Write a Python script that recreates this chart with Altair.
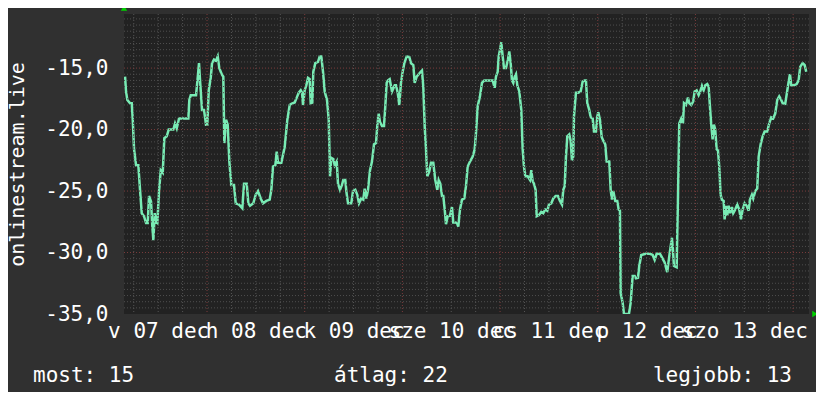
import json
import altair as alt
import pandas as pd

# hours since midnight of 07 dec, and the measured values
hours = [
    3.86, 4.10, 4.42, 5.08, 5.50, 5.75, 6.07, 6.56, 7.12, 7.54,
    7.96, 8.52, 9.02, 9.43, 9.75, 10.24, 10.56, 10.81, 11.15, 11.47,
    11.79, 12.21, 12.63, 13.12, 13.51, 14.10, 14.59, 15.72, 16.14, 16.56,
    17.12, 19.41, 19.65, 20.00, 21.30, 21.62, 22.03, 22.28, 22.77, 23.26,
    23.75, 24.07, 24.42, 24.91, 25.23, 25.72, 26.21, 26.63, 27.02, 27.61,
    28.00, 28.25, 28.67, 29.08, 29.48, 29.97, 30.63, 31.05, 31.86, 32.67,
    33.09, 33.75, 34.15, 34.56, 35.37, 35.96, 36.53, 37.19, 37.76, 38.57,
    39.40, 39.80, 40.21, 40.78, 41.12, 41.44, 42.25, 43.09, 43.73, 44.32,
    44.71, 45.54, 46.04, 46.53, 47.02, 47.34, 47.58, 48.00, 48.39, 48.81,
    49.23, 49.47, 49.87, 50.11, 50.60, 51.27, 51.68, 52.08, 52.50, 52.91,
    53.48, 53.90, 54.22, 54.53, 55.03, 55.37, 55.86, 56.18, 56.67, 57.16,
    57.48, 57.97, 58.22, 58.64, 59.45, 59.86, 60.43, 60.92, 61.34, 61.90,
    62.39, 62.74, 63.13, 63.55, 64.04, 64.53, 65.02, 65.52, 65.83, 66.18,
    66.50, 66.99, 67.48, 67.80, 68.14, 68.46, 68.88, 69.45, 70.11, 70.43,
    70.85, 71.24, 71.65, 72.07, 72.47, 73.06, 73.70, 74.11, 74.68, 75.02,
    75.51, 76.00, 76.50, 76.81, 77.13, 77.48, 77.80, 78.12, 78.61, 79.02,
    79.59, 80.08, 80.57, 80.92, 81.31, 81.73, 82.05, 82.39, 82.71, 83.13,
    83.69, 84.18, 84.50, 85.00, 85.41, 85.73, 86.15, 86.64, 87.21, 87.62,
    88.04, 88.61, 89.27, 89.76, 90.08, 90.50, 91.06, 91.55, 92.12, 94.18,
    94.67, 94.99, 95.41, 95.66, 95.98, 96.29, 96.64, 96.96, 97.45, 97.94,
    98.26, 98.60, 98.92, 99.24, 99.59, 99.91, 100.23, 100.72, 101.21, 101.55,
    101.87, 102.19, 102.78, 103.34, 103.66, 104.01, 104.33, 104.74, 104.99, 105.56,
    106.12, 106.61, 107.10, 107.59, 108.01, 108.58, 109.07, 109.66, 110.22, 110.71,
    111.21, 111.53, 111.87, 112.19, 112.51, 113.00, 113.34, 113.66, 113.98, 114.15,
    114.64, 115.21, 115.80, 116.29, 116.78, 117.10, 117.42, 117.91, 118.26, 118.75,
    119.07, 119.56, 119.88, 120.13, 120.54, 120.96, 121.35, 121.84, 122.19, 122.83,
    123.17, 123.49, 123.81, 124.30, 124.79, 125.13, 125.45, 125.63, 126.12, 126.44,
    127.66, 128.08, 128.57, 129.06, 129.38, 129.88, 130.19, 130.68, 131.77, 132.82,
    133.49, 133.98, 134.47, 135.28, 135.77, 136.43, 137.07, 137.49, 137.91, 138.23,
    138.47, 138.72, 139.38, 139.70, 140.02, 140.51, 140.93, 141.18, 141.67, 142.16,
    142.48, 142.97, 143.46, 143.80, 144.29, 144.78, 145.18, 145.60, 146.01, 146.41,
    146.90, 147.24, 147.56, 147.88, 148.22, 148.54, 148.86, 149.21, 149.53, 149.85,
    150.19, 150.51, 150.93, 151.17, 151.49, 151.81, 152.16, 152.55, 152.97, 153.29,
    153.78, 154.27, 154.76, 155.18, 155.60, 156.09, 156.58, 157.07, 157.39, 157.88,
    158.20, 158.69, 159.18, 159.53, 160.02, 160.51, 161.00, 161.64, 162.13, 162.62,
    163.11, 163.60, 164.09, 164.58, 164.93, 165.42, 166.06, 166.48, 166.90, 167.22,
    167.54, 168.20, 168.86, 169.35, 169.74, 170.33, 170.82, 171.22,
]
values = [
    -15.7, -16.9, -17.6, -17.85, -17.85, -19.2, -21.6, -22.9, -22.9, -24.9,
    -26.8, -27.05, -27.6, -27.6, -25.4, -25.85, -27.9, -29.0, -26.8, -27.5,
    -27.6, -25.0, -23.3, -23.5, -20.7, -20.55, -20.0, -20.0, -19.5, -19.9,
    -19.1, -19.1, -17.6, -17.2, -17.2, -16.1, -14.6, -16.0, -18.4, -18.4,
    -19.6, -19.6, -16.8, -15.8, -14.6, -14.3, -14.4, -14.05, -15.0, -15.5,
    -15.7, -21.1, -19.2, -19.6, -22.6, -24.5, -24.5, -26.0, -26.1, -26.4,
    -24.4, -24.4, -26.0, -26.2, -26.0, -25.3, -25.0, -25.6, -26.0, -25.8,
    -25.7, -24.9, -23.0, -22.9, -21.8, -22.7, -22.7, -21.4, -19.2, -18.0,
    -17.9, -17.8, -17.4, -17.0, -16.8, -17.0, -18.0, -16.8, -16.4, -15.8,
    -15.9, -17.85, -17.8, -15.3, -14.6, -14.5, -14.05, -14.05, -15.3, -16.9,
    -17.6, -19.2, -23.8, -22.3, -22.4, -22.9, -22.6, -24.4, -24.9, -24.5,
    -24.1, -24.1, -25.0, -26.0, -26.0, -25.0, -24.9, -25.3, -26.0, -25.6,
    -25.7, -24.8, -25.6, -24.9, -23.3, -22.6, -21.2, -21.1, -19.7, -18.7,
    -19.4, -19.7, -19.7, -18.1, -16.2, -16.0, -15.9, -16.9, -16.4, -16.4,
    -17.0, -18.0, -16.2, -15.3, -14.6, -14.05, -14.1, -14.6, -14.75, -16.2,
    -15.7, -15.5, -15.3, -15.2, -16.5, -19.75, -21.6, -23.8, -23.4, -22.7,
    -22.7, -24.1, -24.9, -24.1, -24.4, -25.4, -25.4, -26.5, -27.7, -27.05,
    -27.0, -26.3, -27.55, -27.55, -27.6, -27.9, -26.5, -25.7, -25.6, -24.6,
    -23.0, -22.6, -22.2, -21.6, -20.3, -18.1, -17.3, -16.2, -16.0, -16.0,
    -16.6, -15.7, -15.3, -14.05, -13.5, -12.9, -14.05, -15.0, -15.0, -14.3,
    -13.65, -14.6, -16.0, -16.2, -15.7, -15.5, -16.4, -16.9, -18.4, -21.6,
    -23.0, -23.8, -23.8, -24.1, -23.3, -24.2, -24.4, -24.9, -27.05, -26.95,
    -26.7, -26.8, -26.5, -26.6, -26.1, -26.0, -25.6, -25.4, -25.4, -25.8,
    -26.1, -24.9, -24.6, -22.2, -20.55, -20.4, -20.9, -22.5, -22.2, -18.95,
    -17.0, -17.0, -16.9, -16.1, -16.0, -16.0, -17.85, -18.4, -19.0, -19.1,
    -20.15, -20.15, -18.95, -18.6, -19.2, -20.6, -20.9, -21.2, -22.6, -22.6,
    -24.9, -25.7, -25.0, -25.8, -25.8, -26.5, -26.6, -33.3, -34.1, -35.0,
    -35.0, -34.1, -31.9, -31.9, -32.1, -32.05, -31.1, -30.2, -30.1, -30.1,
    -30.2, -30.6, -30.1, -30.1, -30.4, -30.8, -31.6, -30.5, -29.5, -28.8,
    -29.8, -31.1, -31.2, -25.7, -19.5, -19.1, -19.5, -17.85, -18.0, -17.4,
    -17.85, -18.0, -17.7, -16.9, -16.8, -17.2, -16.9, -16.45, -16.8, -16.4,
    -16.3, -16.5, -18.1, -19.6, -20.8, -19.6, -20.0, -21.6, -21.7, -23.0,
    -25.3, -25.7, -25.8, -27.3, -26.2, -27.0, -26.2, -26.8, -26.3, -26.8,
    -26.5, -26.1, -26.5, -27.3, -26.5, -26.0, -26.2, -26.6, -25.7, -25.3,
    -25.6, -25.0, -24.8, -22.2, -21.2, -20.55, -20.15, -20.15, -19.5, -19.0,
    -19.1, -18.7, -17.6, -17.3, -17.5, -17.85, -17.9, -17.0, -16.1, -15.5,
    -16.4, -16.4, -16.3, -16.0, -14.9, -14.6, -14.75, -15.3,
]
assert len(hours) == len(values)

x_domain = [3.6, 171.9]
y_domain = [-35.0, -10.6]
y_ticks = [-35, -30, -25, -20, -15]
day_label_hours = [12, 36, 60, 84, 108, 132, 156]
day_labels = ["v 07 dec", "h 08 dec", "k 09 dec", "sze 10 dec",
              "cs 11 dec", "p 12 dec", "szo 13 dec"]
major_y = [-30, -25, -20, -15]
minor_y = [-35 + 0.5 * i for i in range(1, 49) if i % 10 != 0]
major_x = [24, 48, 72, 96, 120, 144, 168]
minor_x = [6 * i for i in range(1, 29) if i % 4 != 0]
legend_labels = ["most", "átlag", "legjobb"]
legend_values = [15, 22, 13]
y_title = "onlinestream.live"

FONT = "DejaVu Sans Mono"
FS = 21
LINE_COLOR = "#78ebb4"

xs = alt.Scale(domain=x_domain, nice=False, zero=False)
ys = alt.Scale(domain=y_domain, nice=False, zero=False)

x_label_expr = f"{json.dumps(day_labels)}[round((datum.value - 12) / 24)]"
y_label_expr = "'-' + replace(format(abs(datum.value), '.1f'), '.', ',')"

x_axis = alt.Axis(
    values=day_label_hours, labelExpr=x_label_expr, title=None,
    grid=False, ticks=False, tickSize=0, domain=False,
    labelFont=FONT, labelFontSize=FS, labelColor="#ffffff",
    labelPadding=23, labelBaseline="alphabetic",
    labelOverlap=False, labelBound=False, labelFlush=False,
)
y_axis = alt.Axis(
    values=y_ticks, labelExpr=y_label_expr, title=y_title,
    grid=False, ticks=False, tickSize=0, domain=False,
    labelFont=FONT, labelFontSize=FS, labelColor="#ffffff",
    labelPadding=16, labelOverlap=False, labelBound=False, labelFlush=False,
    titleFont=FONT, titleFontSize=20, titleFontWeight="normal",
    titleColor="#ffffff", titleX=-101, titleY=150,
    titleAlign="center", titleBaseline="alphabetic",
)


def X(field):
    return alt.X(field, scale=xs, axis=x_axis, title=None)


def Y(field):
    return alt.Y(field, scale=ys, axis=y_axis, title=y_title)


df = pd.DataFrame({"h": hours, "v": values})

minor_h = alt.Chart(pd.DataFrame({"gy": minor_y})).mark_rule(
    color="#4e4e4e", strokeDash=[1, 2], strokeWidth=1
).encode(y=Y("gy:Q"))

minor_v = alt.Chart(pd.DataFrame({"gx": minor_x})).mark_rule(
    color="#555555", strokeDash=[1, 2], strokeWidth=1
).encode(x=X("gx:Q"))

major_h = alt.Chart(pd.DataFrame({"gy": major_y})).mark_rule(
    color="#7a3c3c", strokeDash=[1, 2], strokeWidth=1
).encode(y=Y("gy:Q"))

major_v = alt.Chart(pd.DataFrame({"gx": major_x})).mark_rule(
    color="#7a3c3c", strokeDash=[1, 2], strokeWidth=1
).encode(x=X("gx:Q"))

line = alt.Chart(df).mark_line(
    color=LINE_COLOR, strokeWidth=2.5, clip=True
).encode(x=X("h:Q"), y=Y("v:Q"))

arrow_top = alt.Chart(pd.DataFrame({"ax": [x_domain[0]], "ay": [y_domain[1]]})).mark_point(
    shape="triangle-up", filled=True, color="#00d000", size=40, opacity=1, yOffset=-6
).encode(x=X("ax:Q"), y=Y("ay:Q"))

arrow_right = alt.Chart(pd.DataFrame({"ax": [x_domain[1]], "ay": [y_domain[0]]})).mark_point(
    shape="triangle-right", filled=True, color="#00d000", size=40, opacity=1, xOffset=6
).encode(x=X("ax:Q"), y=Y("ay:Q"))

legend_x = [-91, 210, 668]
legend_align = ["left", "left", "right"]
texts = []
for lab, val, lx, al in zip(legend_labels, legend_values, legend_x, legend_align):
    texts.append(
        alt.Chart(pd.DataFrame({"t": [f"{lab}: {val}"]})).mark_text(
            font=FONT, fontSize=FS, color="#ffffff", align=al, baseline="alphabetic"
        ).encode(text="t:N", x=alt.value(lx), y=alt.value(368))
    )

chart = alt.layer(
    line, minor_h, minor_v, major_h, major_v, arrow_top, arrow_right, *texts
).properties(
    width=685, height=300,
    autosize=alt.AutoSizeParams(type="none"),
    padding={"left": 116, "top": 6, "right": 7, "bottom": 78},
    background="#303030",
).configure_view(fill="#222222", strokeWidth=0)

chart.save("out.html", embed_options={"renderer": "svg", "actions": False})
